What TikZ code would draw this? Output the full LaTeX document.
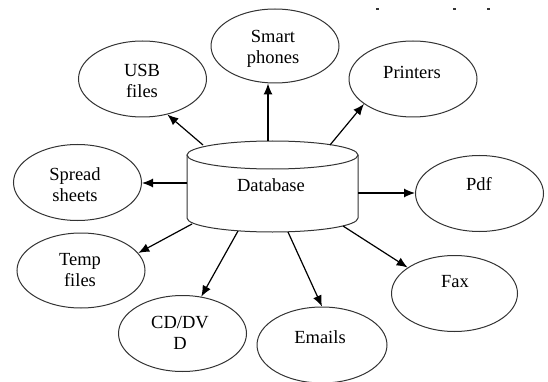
\documentclass[tikz,border=0pt]{standalone}
\usepackage{fontspec}
\setmainfont{Liberation Serif}
\usetikzlibrary{shapes.geometric,arrows.meta,calc}
\begin{document}
\begin{tikzpicture}[x=1pt,y=-1pt,
  bubble/.style={ellipse,draw=black!80,line width=1pt,minimum width=128pt,minimum height=76pt,inner sep=0pt},
  lbl/.style={align=center,font=\fontsize{18.5}{21}\selectfont,text=black,inner sep=0pt},
  arr/.style={draw=black,line width=1.2pt,-{Latex[length=11pt,width=9pt]}}]
\useasboundingbox (0,0) rectangle (548,382);
% stray marks at the top
\fill[black!80] (376,8) rectangle (379,10.5);
\fill[black!80] (453,8) rectangle (456,10.5);
\fill[black!80] (487,8) rectangle (490,10.5);
% database cylinder
\draw[black!80,line width=1pt,fill=white] (187,155) -- (187,218) arc[start angle=180,end angle=360,x radius=85.5pt,y radius=14pt] -- (358,155);
\draw[black!80,line width=1pt] (272.5,155) ellipse [x radius=85.5pt,y radius=14pt];
\node[minimum width=171pt,minimum height=91pt,inner sep=0pt] (db) at (272.5,186.5) {};
\node[lbl] (dbt) at (271,185) {Database};
% bubbles
\node[bubble] (usb) at (142.5,79) {};
\node[bubble,minimum height=74pt] (sp) at (275,46) {};
\node[bubble] (pr) at (413,79) {};
\node[bubble] (ss) at (77.5,182.5) {};
\node[bubble] (pdf) at (479.5,193.5) {};
\node[bubble,minimum height=75pt] (tmp) at (81,270.5) {};
\node[bubble] (cd) at (182.5,333.5) {};
\node[bubble,minimum width=130pt] (em) at (322,345) {};
\node[bubble,minimum width=126pt] (fax) at (454.5,293.5) {};
% texts
\node[lbl] (usbt) at (142,81) {USB\\files};
\node[lbl] (spt) at (273,49) {Smart\\phones};
\node[lbl] (prt) at (412,72) {Printers};
\node[lbl] (sst) at (75,185) {Spread\\sheets};
\node[lbl] (pdft) at (479,184) {Pdf};
\node[lbl] (tmpt) at (80,270) {Temp\\files};
\node[lbl] (cdt) at (180,333) {CD/DV\\D};
\node[lbl] (emt) at (320,337) {Emails};
\node[lbl] (faxt) at (455,282) {Fax};
% connector start points on the cylinder
\coordinate (a1) at ($(db.center)+(-69.5,-41.5)$);
\coordinate (a2) at ($(db.center)+(-4.5,-45.5)$);
\coordinate (a3) at ($(db.center)+(57.5,-41.5)$);
\coordinate (a4) at ($(db.center)+(-85.5,-3.5)$);
\coordinate (a5) at ($(db.center)+(85.5,6.5)$);
\coordinate (a6) at ($(db.center)+(-80.5,37.5)$);
\coordinate (a7) at ($(db.center)+(-34.5,44.5)$);
\coordinate (a8) at ($(db.center)+(15.5,45.5)$);
\coordinate (a9) at ($(db.center)+(70.5,39.5)$);
% connectors
\draw[arr] (a1) -- (usb.-55);
\draw[arr] (a2) -- (a2 |- sp.south);
\draw[arr] (a3) -- (pr.-153);
\draw[arr] (a4) -- (a4 -| ss.east);
\draw[arr] (a5) -- (a5 -| pdf.west);
\draw[arr] (a6) -- (tmp.17);
\draw[arr] (a7) -- (cd.63);
\draw[arr] (a8) -- (em.north);
\draw[arr] (a9) -- (fax.151);
\end{tikzpicture}
\end{document}
